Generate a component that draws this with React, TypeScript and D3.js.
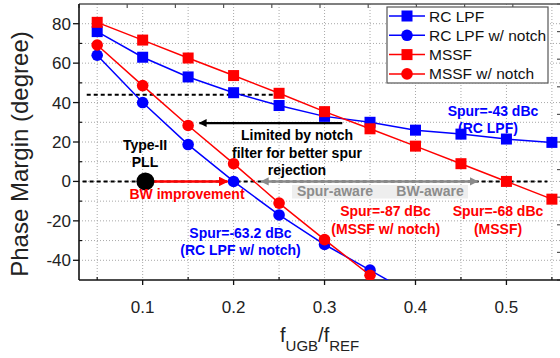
import React from "react";
import * as d3 from "d3";

// f_UGB / f_REF sweep points
const ratios = [0.05, 0.1, 0.15, 0.2, 0.25, 0.3, 0.35, 0.4, 0.45, 0.5, 0.55];
const rcLpf = [76, 63, 53, 45, 38.5, 33, 30, 26, 24, 21.5, 19.8];
const mssf = [80.7, 71.7, 62.6, 53.7, 44.7, 35.4, 26.7, 17.9, 9, 0, -9];
const rcNotchRatios = [0.05, 0.1, 0.15, 0.2, 0.25, 0.3, 0.35, 0.4];
const rcNotch = [64, 40, 18.7, 0, -17, -32, -45, -58];
const mssfNotchRatios = [0.05, 0.1, 0.15, 0.2, 0.25, 0.3, 0.35];
const mssfNotch = [69.2, 48.6, 28.4, 9, -11, -29.5, -47.6];

const seriesNames = ["RC LPF", "RC LPF w/ notch", "MSSF", "MSSF w/ notch"];
const seriesColors = ["#0000ff", "#0000ff", "#ff0000", "#ff0000"];
const seriesShapes = ["square", "circle", "square", "circle"];

const xTickLabels = ["0.1", "0.2", "0.3", "0.4", "0.5"];
const yTickLabels = ["-40", "-20", "0", "20", "40", "60", "80"];

// reference levels and the type-II PLL operating point
const pmTarget = 44;
const typeIIRatio = 0.103;

const W = 560;
const H = 358;
const L = 79;
const R = 561;
const T = 4;
const B = 280;
const FONT = "'Liberation Sans', Arial, sans-serif";

const x = d3.scaleLinear().domain([0.03, 0.56]).range([L, R]);
const y = d3.scaleLinear().domain([-50, 90]).range([B, T]);
// secondary (unlabelled) frame ticks on top and right
const auxX = d3.scaleLinear().domain([0, 10]).range([L, R]);
const auxY = d3.scaleLinear().domain([0, 10]).range([B, T]);

const line = d3
  .line<[number, number]>()
  .x((d) => x(d[0]))
  .y((d) => y(d[1]));

function Marker({ shape, cx, cy, color }: { shape: string; cx: number; cy: number; color: string }) {
  if (shape === "square") {
    return <rect x={cx - 5.5} y={cy - 5.5} width={11} height={11} fill={color} />;
  }
  return <circle cx={cx} cy={cy} r={5.8} fill={color} />;
}

export default function App() {
  const series: [number, number][][] = [
    ratios.map((r, i) => [r, rcLpf[i]]),
    rcNotchRatios.map((r, i) => [r, rcNotch[i]]),
    ratios.map((r, i) => [r, mssf[i]]),
    mssfNotchRatios.map((r, i) => [r, mssfNotch[i]]),
  ];

  const gridX = x.ticks(10);
  const gridY = y.ticks(14).filter((v) => v > -50 && v < 90);
  const majorX = x.ticks(5);
  const majorY = y.ticks(7);
  const minorY = gridY.filter((v) => !majorY.includes(v));
  const minorX = gridX.filter((v) => !majorX.some((m) => Math.abs(m - v) < 1e-9));

  const y0 = y(0);
  const yArrow = y(29.6);

  return (
    <svg
      width={W}
      height={H}
      style={{ position: "absolute", left: 0, top: 0, background: "#fff" }}
      fontFamily={FONT}
    >
      <defs>
        <clipPath id="plot">
          <rect x={L} y={T} width={R - L} height={B - T} />
        </clipPath>
        <marker id="headRed" viewBox="0 0 10 10" refX={9} refY={5} markerWidth={4} markerHeight={4} orient="auto" markerUnits="strokeWidth">
          <path d="M0,0 L10,5 L0,10 z" fill="#ff0000" />
        </marker>
        <marker id="headBlack" viewBox="0 0 10 10" refX={9} refY={5} markerWidth={4} markerHeight={3.6} orient="auto" markerUnits="strokeWidth">
          <path d="M0,0 L10,5 L0,10 z" fill="#000" />
        </marker>
        <marker id="headGray" viewBox="0 0 10 10" refX={9} refY={5} markerWidth={3.6} markerHeight={3.4} orient="auto-start-reverse" markerUnits="strokeWidth">
          <path d="M0,0 L10,5 L0,10 z" fill="#8a8a8a" />
        </marker>
      </defs>

      {/* grid */}
      <g stroke="#a8a8a8" strokeWidth={1} strokeDasharray="1,2">
        {gridX.map((v) => (
          <line key={"gx" + v} x1={x(v)} x2={x(v)} y1={T} y2={B} />
        ))}
        {gridY.map((v) => (
          <line key={"gy" + v} x1={L} x2={R} y1={y(v)} y2={y(v)} />
        ))}
      </g>

      {/* frame */}
      <line x1={L} x2={R} y1={T} y2={T} stroke="#555" strokeWidth={1.5} />
      <line x1={R} x2={R} y1={T} y2={B} stroke="#555" strokeWidth={1.5} />
      {auxX.ticks(10).map((v) => (
        <line key={"tt" + v} x1={auxX(v)} x2={auxX(v)} y1={T} y2={T + 4} stroke="#555" strokeWidth={1.2} />
      ))}
      {auxY.ticks(10).map((v) => (
        <line key={"rt" + v} x1={R} x2={R - 4} y1={auxY(v)} y2={auxY(v)} stroke="#555" strokeWidth={1.2} />
      ))}
      <line x1={L} x2={L} y1={T} y2={B} stroke="#111" strokeWidth={1.6} />
      <line x1={L} x2={R} y1={B} y2={B} stroke="#111" strokeWidth={1.6} />

      {/* y axis ticks and labels */}
      {majorY.map((v, i) => (
        <g key={"yt" + v}>
          <line x1={L - 6} x2={L} y1={y(v)} y2={y(v)} stroke="#111" strokeWidth={1.3} />
          <text x={71} y={y(v) + 6} textAnchor="end" fontSize={17} fill="#222">
            {yTickLabels[i]}
          </text>
        </g>
      ))}
      {minorY.map((v) => (
        <line key={"ym" + v} x1={L} x2={L + 3} y1={y(v)} y2={y(v)} stroke="#111" strokeWidth={1.2} />
      ))}

      {/* x axis ticks and labels */}
      {majorX.map((v, i) => (
        <g key={"xt" + v}>
          <line x1={x(v)} x2={x(v)} y1={B} y2={B + 5} stroke="#111" strokeWidth={1.3} />
          <text x={x(v)} y={313} textAnchor="middle" fontSize={17} fill="#222">
            {xTickLabels[i]}
          </text>
        </g>
      ))}
      {minorX.map((v) => (
        <line key={"xm" + v} x1={x(v)} x2={x(v)} y1={B - 3} y2={B} stroke="#111" strokeWidth={1.2} />
      ))}

      {/* axis titles */}
      <text
        transform={`translate(28,${(T + B) / 2 + 12}) rotate(-90)`}
        textAnchor="middle"
        fontSize={24}
        fill="#222"
      >
        Phase Margin (degree)
      </text>
      <text x={280} y={341.5} fontSize={20} fill="#222">
        f
        <tspan dy={9} fontSize={15}>UGB</tspan>
        <tspan dy={-9}>/f</tspan>
        <tspan dy={9} fontSize={15}>REF</tspan>
      </text>

      {/* reference lines */}
      <line x1={x(0.0385)} x2={x(0.25)} y1={y(pmTarget)} y2={y(pmTarget)} stroke="#000" strokeWidth={2} strokeDasharray="4,3" />
      <line x1={x(0.034)} x2={x(0.545)} y1={y0} y2={y0} stroke="#000" strokeWidth={2} strokeDasharray="4,3" />

      {/* series */}
      <g clipPath="url(#plot)">
        {series.map((pts, si) => (
          <g key={"s" + si}>
            <path d={line(pts) || ""} fill="none" stroke={seriesColors[si]} strokeWidth={1.5} />
            {pts.map((p, pi) => (
              <Marker key={pi} shape={seriesShapes[si]} cx={x(p[0])} cy={y(p[1])} color={seriesColors[si]} />
            ))}
          </g>
        ))}
      </g>

      {/* bandwidth improvement */}
      <line x1={x(typeIIRatio) + 8} x2={x(0.2) - 6} y1={y0} y2={y0} stroke="#ff0000" strokeWidth={2.4} markerEnd="url(#headRed)" />
      <circle cx={x(typeIIRatio)} cy={y0} r={9} fill="#000" />
      <text x={145} y={150} textAnchor="middle" fontSize={14} fontWeight="bold" fill="#000">Type-II</text>
      <text x={145} y={167} textAnchor="middle" fontSize={14} fontWeight="bold" fill="#000">PLL</text>
      <text x={187} y={199} textAnchor="middle" fontSize={14} fontWeight="bold" fill="#ff0000">BW improvement</text>

      {/* spur-aware / BW-aware range */}
      <rect x={292} y={185} width={176} height={13.5} fill="#eeeeee" />
      <line x1={x(0.2305)} x2={x(0.468)} y1={y0} y2={y0} stroke="#8a8a8a" strokeWidth={2.4} markerStart="url(#headGray)" markerEnd="url(#headGray)" />
      <text x={335} y={195.5} textAnchor="middle" fontSize={14} fontWeight="bold" fill="#8c8c8c">Spur-aware</text>
      <text x={430} y={195.5} textAnchor="middle" fontSize={14} fontWeight="bold" fill="#8c8c8c">BW-aware</text>

      {/* notch limitation */}
      <line x1={x(0.3195)} x2={x(0.1625)} y1={yArrow} y2={yArrow} stroke="#000" strokeWidth={2.2} markerEnd="url(#headBlack)" />
      <g textAnchor="middle" fontSize={14} fontWeight="bold" fill="#000">
        <text x={297} y={140}>Limited by notch</text>
        <text x={297} y={157.5}>filter for better spur</text>
        <text x={297} y={175}>rejection</text>
      </g>

      {/* spur annotations */}
      <g textAnchor="middle" fontSize={14} fontWeight="bold">
        <text x={493} y={116} fill="#0000ff">Spur=-43 dBc</text>
        <text x={488} y={133} fill="#0000ff">(RC LPF)</text>
        <text x={240.5} y={238} fill="#0000ff">Spur=-63.2 dBc</text>
        <text x={240.5} y={255} fill="#0000ff">(RC LPF w/ notch)</text>
        <text x={385.5} y={216} fill="#ff0000">Spur=-87 dBc</text>
        <text x={385.8} y={233.5} fill="#ff0000">(MSSF w/ notch)</text>
        <text x={498} y={216} fill="#ff0000">Spur=-68 dBc</text>
        <text x={498} y={233.5} fill="#ff0000">(MSSF)</text>
      </g>

      {/* legend */}
      <g>
        <rect x={387} y={7} width={161} height={76} fill="#fff" stroke="#555" strokeWidth={1.2} />
        {seriesNames.map((name, i) => {
          const ly = 16 + i * 19.3;
          return (
            <g key={"lg" + i}>
              <line x1={389} x2={425} y1={ly} y2={ly} stroke={seriesColors[i]} strokeWidth={1.5} />
              <Marker shape={seriesShapes[i]} cx={407} cy={ly} color={seriesColors[i]} />
              <text x={429} y={ly + 5.5} fontSize={15.5} fill="#111">
                {name}
              </text>
            </g>
          );
        })}
      </g>
    </svg>
  );
}
